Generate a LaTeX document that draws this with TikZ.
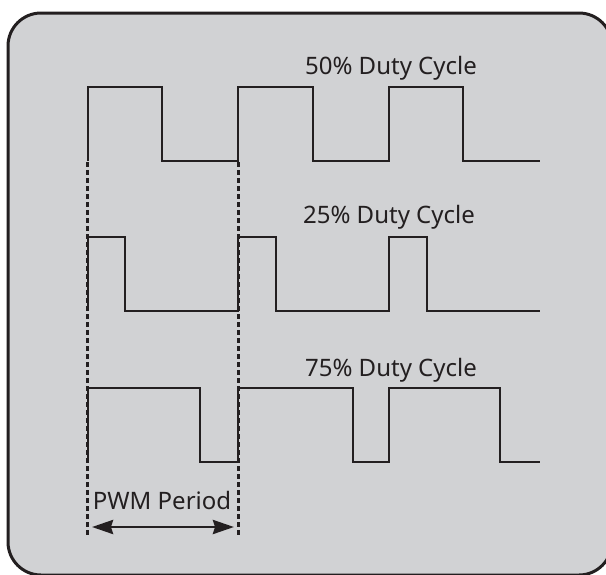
\documentclass[tikz,border=0pt]{standalone}
\usepackage{fontspec}
\setmainfont{Noto Sans}
\usetikzlibrary{arrows.meta}
\definecolor{ink}{HTML}{231F20}
\definecolor{panel}{HTML}{D1D2D4}
\tikzset{
  wave/.style={draw=ink, line width=2.9pt, line join=miter},
  frame/.style={draw=ink, fill=panel, line width=3pt, rounded corners=33pt},
  guide/.style={draw=ink, line width=2.9pt, dash pattern=on 4.5pt off 3.5pt},
  label/.style={text=ink, font=\fontsize{24}{28}\selectfont, anchor=base, inner sep=0pt},
  span/.style={draw=ink, line width=2.9pt, {Stealth[length=21pt,width=14pt,inset=2pt]}-{Stealth[length=21pt,width=14pt,inset=2pt]}}
}
\begin{document}
\begin{tikzpicture}[x=1pt,y=-1pt]
  \useasboundingbox (0,0) rectangle (606,574);
  \begin{scope}
    \clip (0,0) rectangle (606,574);
    \path[frame] (8,13) rectangle (612,575);
  \end{scope}

  % period guides
  \coordinate (g1t) at (87.5,162);
  \coordinate (g1b) at (87.5,536);
  \coordinate (g2t) at (238.5,162);
  \coordinate (g2b) at (238.5,538);
  \draw[guide] (g1t) -- (g1b);
  \draw[guide] (g2t) -- (g2b);

  % 50% duty cycle
  \draw[wave] (88,161) -- (88,87) -- (162,87) -- (162,161) -- (238,161)
    -- (238,87) -- (313,87) -- (313,161) -- (389,161)
    -- (389,87) -- (463,87) -- (463,161) -- (540,161);
  % 25% duty cycle
  \draw[wave] (88,311) -- (88,237) -- (125,237) -- (125,311) -- (238,311)
    -- (238,237) -- (276,237) -- (276,311) -- (389,311)
    -- (389,237) -- (427,237) -- (427,311) -- (540,311);
  % 75% duty cycle
  \draw[wave] (88,462) -- (88,388) -- (200,388) -- (200,462) -- (238,462)
    -- (238,388) -- (353,388) -- (353,462) -- (389,462)
    -- (389,388) -- (500,388) -- (500,462) -- (540,462);

  \node[label] (t50) at (391,74) {50\% Duty Cycle};
  \node[label] (t25) at (389,223) {25\% Duty Cycle};
  \node[label] (t75) at (391,376) {75\% Duty Cycle};
  \node[label] (tpwm) at (162,509) {PWM Period};

  % period span arrow
  \coordinate (pL) at (92,527);
  \coordinate (pR) at (234,527);
  \draw[span] (pL) -- (pR);
\end{tikzpicture}
\end{document}
